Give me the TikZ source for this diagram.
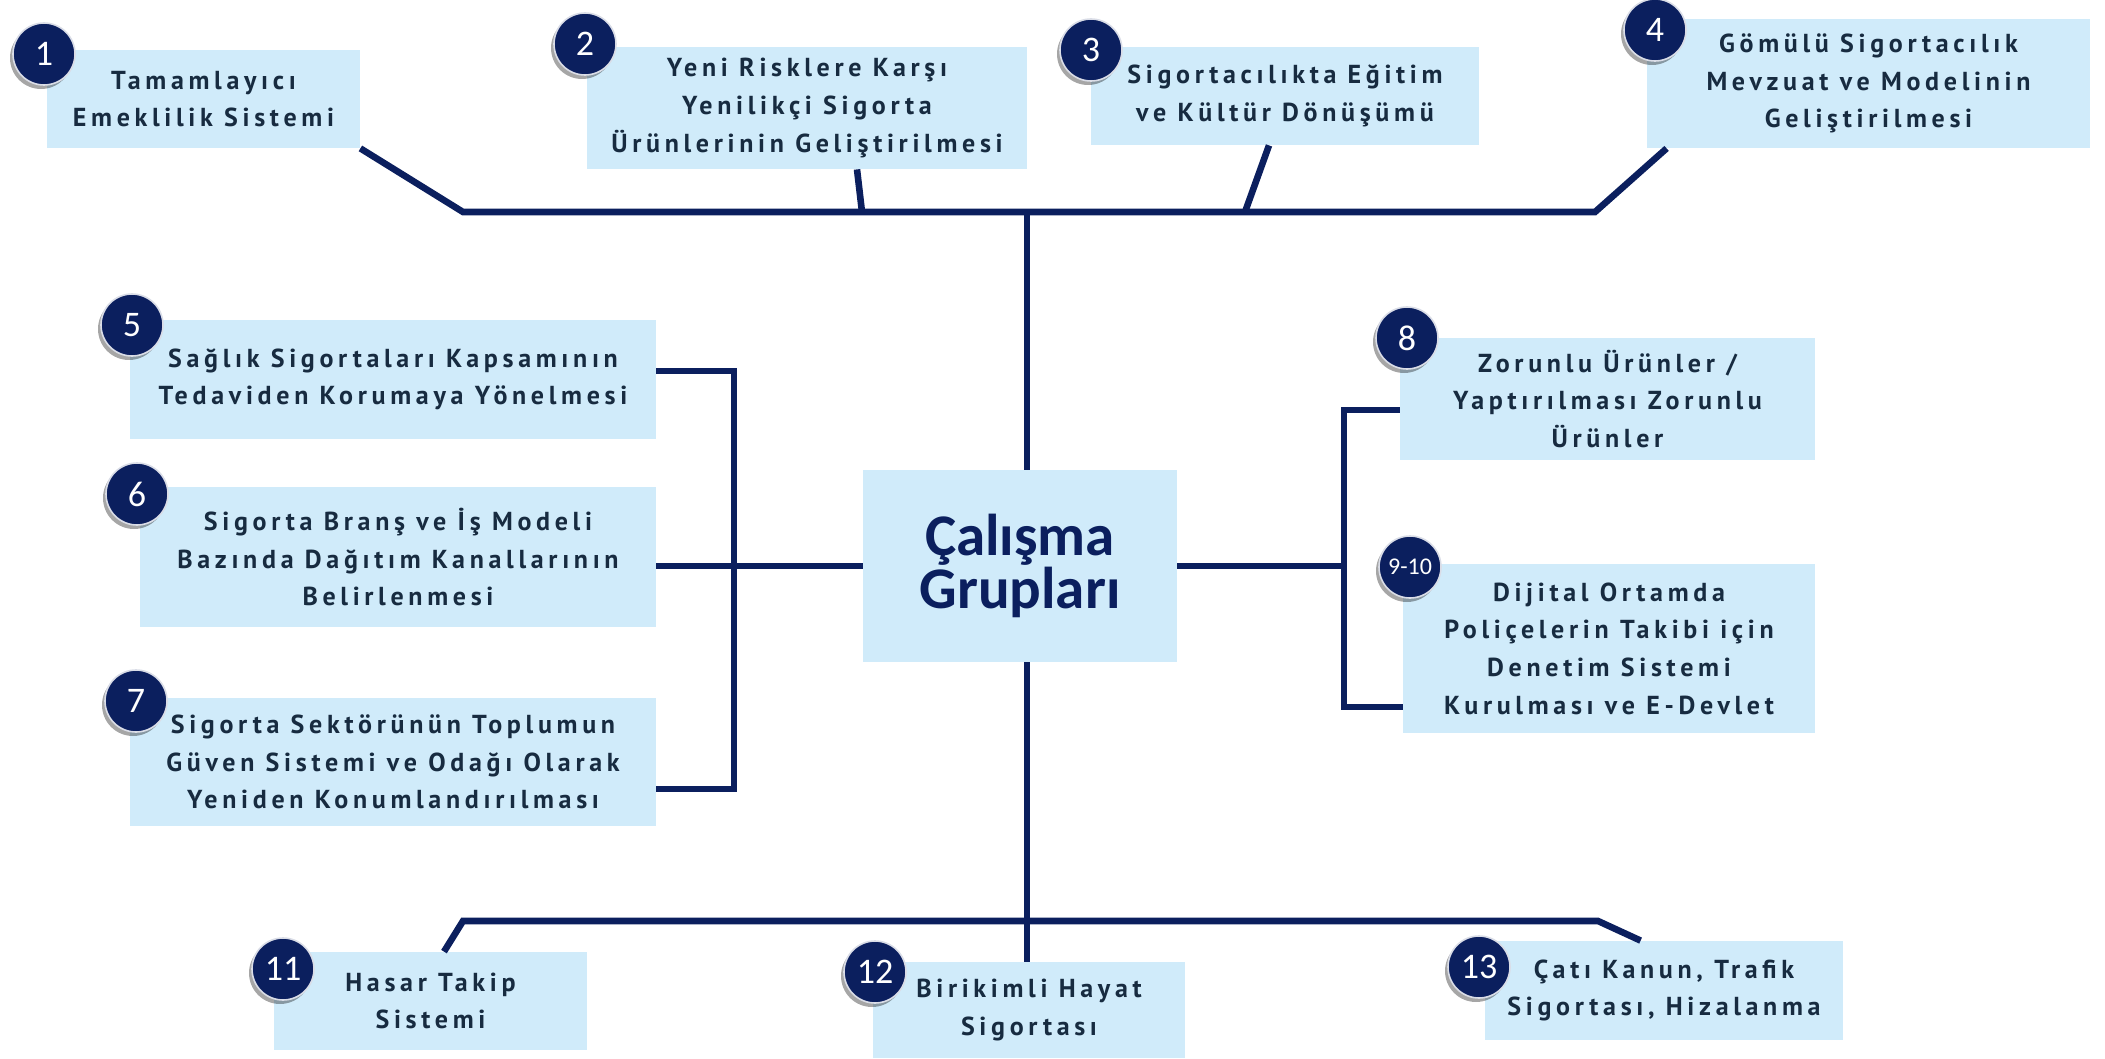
\documentclass[tikz,border=0pt]{standalone}
\usepackage{fontspec}
\setmainfont{PT Sans}
\newfontfamily\boxfont{PT Sans}[LetterSpace=18]
\newfontfamily\titlefont{Carlito}
\usetikzlibrary{shadows,calc}
\definecolor{navy}{HTML}{0B1F5E}
\definecolor{boxfill}{HTML}{D0EBFA}
\definecolor{boxtext}{HTML}{172B40}
\tikzset{
  gbox/.style={fill=boxfill, draw=none, inner sep=0pt, align=center, text=boxtext,
    font=\boxfont\bfseries\fontsize{13}{18.8}\selectfont},
  numc/.style={circle, fill=navy, draw=white!85!navy, line width=0.8pt, minimum size=31pt,
    inner sep=0pt, text=white, font=\titlefont\fontsize{18}{18}\selectfont,
    drop shadow={shadow xshift=-1.5pt, shadow yshift=-2pt, opacity=0.35, fill=black}},
  link/.style={draw=navy, line width=3.3pt, line join=miter, line cap=butt}
}
\begin{document}
\begin{tikzpicture}[x=0.5pt,y=-0.5pt]
\useasboundingbox (0,0) rectangle (2105,1059);
% center
\node[fill=boxfill, minimum width=157pt, minimum height=96pt, inner sep=0pt, align=center,
  text=navy, font=\titlefont\bfseries\fontsize{29.5}{25}\selectfont] (c) at (1020,566) {Çalışma\\Grupları};
% top boxes
\node[gbox, minimum width=156.5pt, minimum height=49pt] (b1) at (203.5,99) {Tamamlayıcı\\Emeklilik Sistemi};
\node[gbox, minimum width=220pt, minimum height=61pt] (b2) at (807,108) {Yeni Risklere Karşı\\Yenilikçi Sigorta\\Ürünlerinin Geliştirilmesi};
\node[gbox, minimum width=194pt, minimum height=49pt] (b3) at (1285,96) {Sigortacılıkta Eğitim\\ve Kültür Dönüşümü};
\node[gbox, minimum width=221.5pt, minimum height=64.5pt] (b4) at (1868.5,83.5) {Gömülü Sigortacılık\\Mevzuat ve Modelinin\\Geliştirilmesi};
% left boxes
\node[gbox, minimum width=263pt, minimum height=59.5pt] (b5) at (393,379.5) {Sağlık Sigortaları Kapsamının\\Tedaviden Korumaya Yönelmesi};
\node[gbox, minimum width=258pt, minimum height=70pt] (b6) at (398,557) {Sigorta Branş ve İş Modeli\\Bazında Dağıtım Kanallarının\\Belirlenmesi};
\node[gbox, minimum width=263pt, minimum height=64pt] (b7) at (393,762) {Sigorta Sektörünün Toplumun\\Güven Sistemi ve Odağı Olarak\\Yeniden Konumlandırılması};
% right boxes
\node[gbox, minimum width=207.5pt, minimum height=61pt] (b8) at (1607.5,399) {Zorunlu Ürünler /\\Yaptırılması Zorunlu\\Ürünler};
\node[gbox, minimum width=206pt, minimum height=84.5pt] (b9) at (1609,648.5) {Dijital Ortamda\\Poliçelerin Takibi için\\Denetim Sistemi\\Kurulması ve E-Devlet};
% bottom boxes
\node[gbox, minimum width=156.5pt, minimum height=49pt] (b11) at (430.5,1001) {Hasar Takip\\Sistemi};
\node[gbox, minimum width=156pt, minimum height=48pt] (b12) at (1029,1010) {Birikimli Hayat\\Sigortası};
\node[gbox, minimum width=179pt, minimum height=49.5pt] (b13) at (1664,990.5) {Çatı Kanun, Trafik\\Sigortası, Hizalanma};
% junction coordinates
\coordinate (t1) at (463,212);
\coordinate (t2) at (862,212);
\coordinate (t3) at (1245,212);
\coordinate (t4) at (1595,212);
\coordinate (tc) at (1027,212);
\coordinate (bl) at (463,921);
\coordinate (br) at (1598,921);
\coordinate (l1) at (734,371);
\coordinate (l3) at (734,789);
\coordinate (r1) at (1344,410);
\coordinate (r3) at (1344,707);
% top connectors
\draw[link] (b1.south east) -- (t1) -- (t4) -- ($(b4.south west)+(20,0)$);
\draw[link] ($(b2.south)+(50,0)$) -- (t2);
\draw[link] ($(b3.south)+(-16,0)$) -- (t3);
\draw[link] (tc) -- (tc|-c.north);
% left bracket
\draw[link] (b5.east|-l1) -- (l1) -- (l3) -- (b7.east|-l3);
\draw[link] (b6.east|-c.west) -- (c.west);
% right bracket
\draw[link] (c.east) -- (c.east-|r1);
\draw[link] (b8.west|-r1) -- (r1) -- (r3) -- (b9.west|-r3);
% bottom connectors
\draw[link] (tc|-c.south) -- (tc|-b12.north);
\draw[link] ($(b11.north)+(13.5,0)$) -- (bl) -- (br) -- ($(b13.north west)+(156,0)$);
% number circles
\node[numc] (n1) at (44,54) {1};
\node[numc] (n2) at (585,44) {2};
\node[numc] (n3) at (1091,50) {3};
\node[numc] (n4) at (1655,30) {4};
\node[numc] (n5) at (132,325) {5};
\node[numc] (n6) at (137,494) {6};
\node[numc] (n7) at (136,701) {7};
\node[numc] (n8) at (1407,338) {8};
\node[numc, font=\titlefont\fontsize{12}{12}\selectfont] (n9) at (1410,567) {9-10};
\node[numc] (n11) at (283,969) {11};
\node[numc] (n12) at (875,972) {12};
\node[numc] (n13) at (1479,967) {13};
\end{tikzpicture}
\end{document}
